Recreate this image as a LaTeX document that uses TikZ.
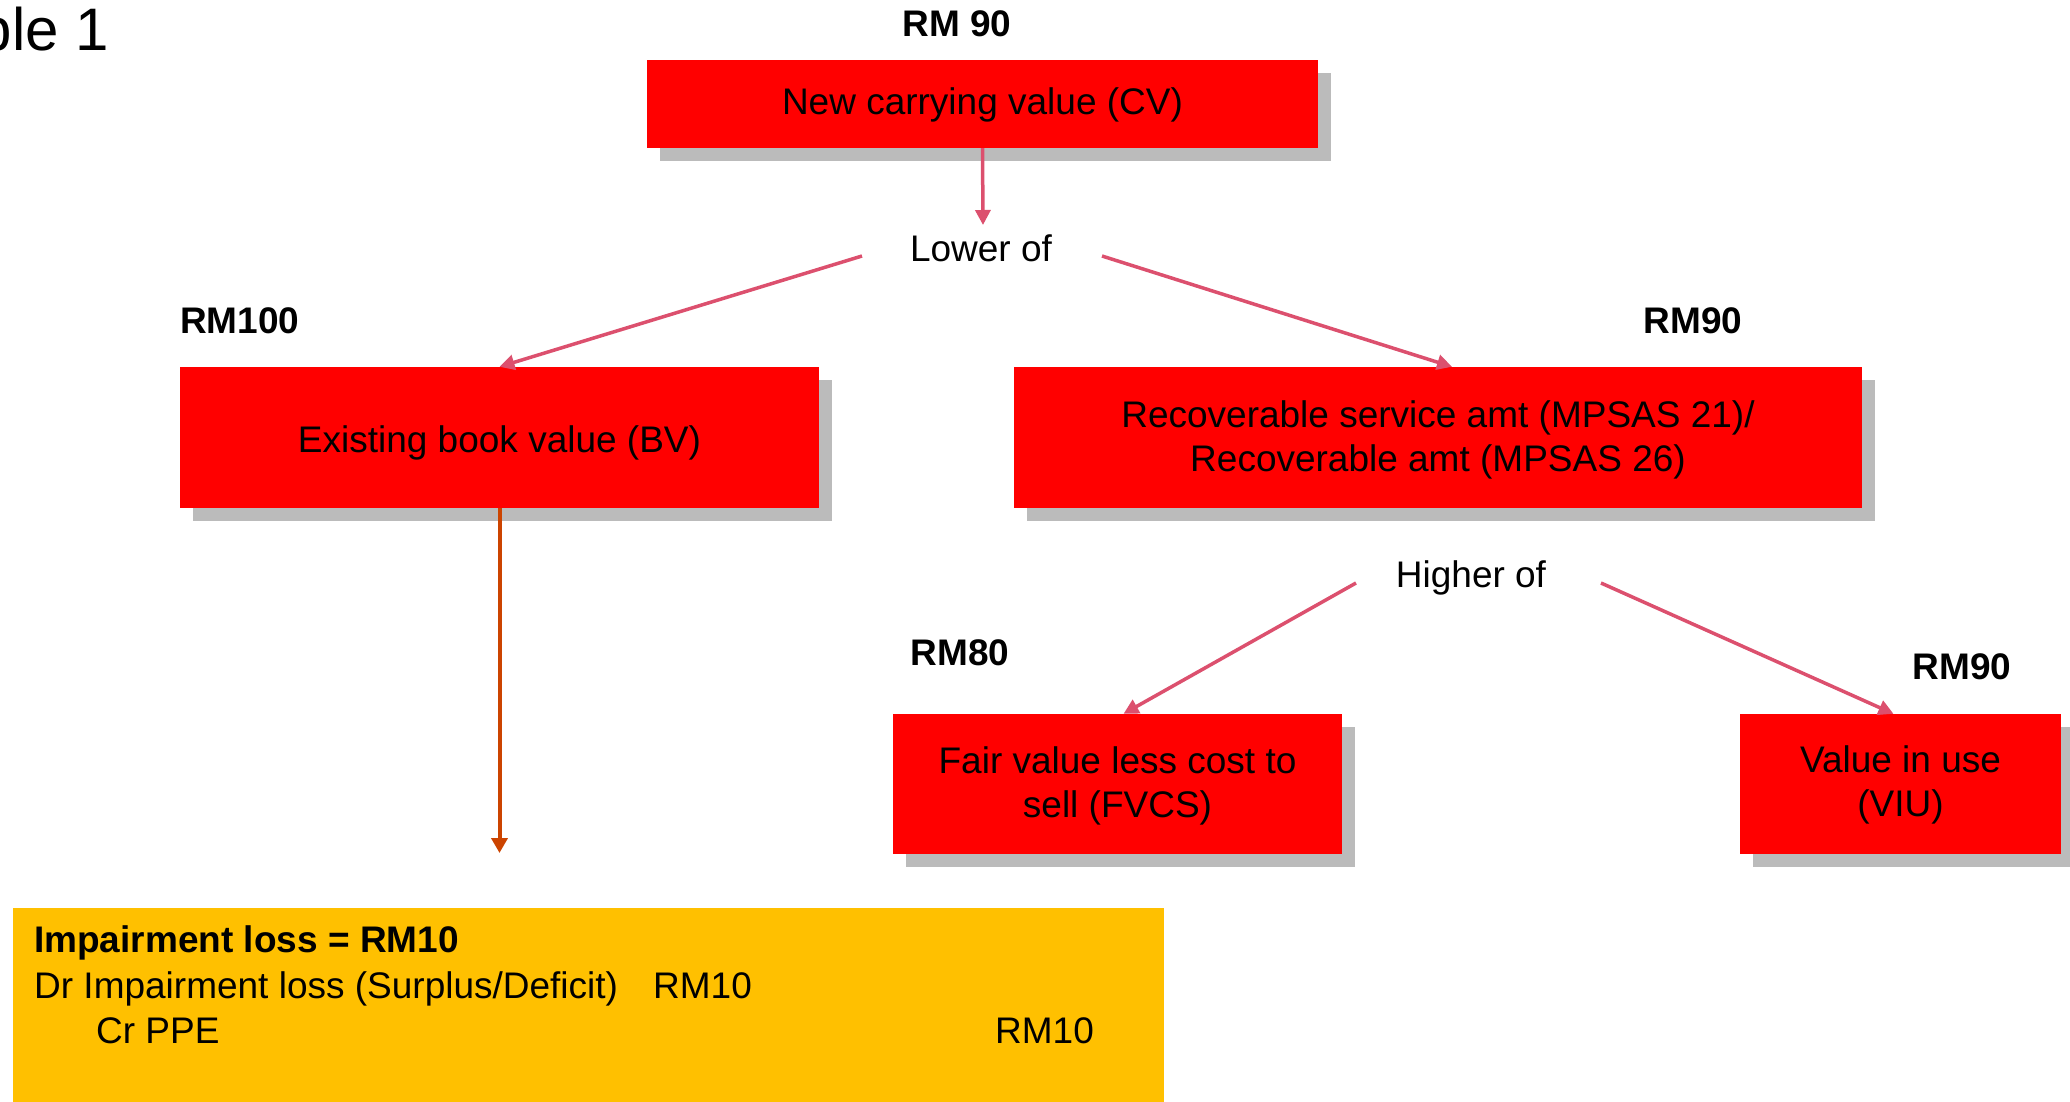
\documentclass[tikz,border=0pt]{standalone}
\usepackage{fontspec}
\setmainfont{Liberation Sans}
\usetikzlibrary{arrows.meta,shadows}
\definecolor{boxred}{HTML}{FF0000}
\definecolor{shadowgray}{HTML}{BBBBBB}
\definecolor{arrowpink}{HTML}{DC506E}
\definecolor{arrowbrown}{HTML}{CC4400}
\definecolor{lossyellow}{HTML}{FFC000}
\newcommand{\boxtext}[2]{\raisebox{-#1pt}[\height][\depth]{\begin{tabular}{@{}c@{}}#2\end{tabular}}}
\begin{document}
\begin{tikzpicture}[x=1pt,y=-1pt,
  every node/.style={font=\fontsize{37}{44}\selectfont, inner sep=0pt},
  redbox/.style={fill=boxred, align=center, minimum height=#1,
     drop shadow={shadow xshift=13pt, shadow yshift=-13pt, fill=shadowgray, opacity=1}},
  amount/.style={font=\fontsize{37}{44}\selectfont\bfseries},
  pinkarrow/.style={draw=arrowpink, line width=3.5pt, -{Triangle[width=15pt,length=15pt]}},
  brownarrow/.style={draw=arrowbrown, line width=4pt, -{Triangle[width=16pt,length=15pt]}}
]
\useasboundingbox (0,0) rectangle (2070,1101);

% title (cut off at left edge, as in the reference)
\node[anchor=base east, font=\fontsize{60}{72}\selectfont] (title) at (109,50) {Example 1};

% boxes
\node[redbox=88pt, minimum width=671pt] (cv) at (982.5,104) {\boxtext{2}{New carrying value (CV)}};
\node[redbox=141pt, minimum width=639pt] (bv) at (499.5,437.5) {\boxtext{6}{Existing book value (BV)}};
\node[redbox=141pt, minimum width=848pt] (rsa) at (1438,437.5) {\boxtext{3}{Recoverable service amt (MPSAS 21)/\\Recoverable amt (MPSAS 26)}};
\node[redbox=140pt, minimum width=449pt] (fvcs) at (1117.5,784) {\boxtext{3}{Fair value less cost to\\sell (FVCS)}};
\node[redbox=140pt, minimum width=321pt] (viu) at (1900.5,784) {\boxtext{2}{Value in use\\(VIU)}};

% amount labels
\node[amount] (rmcv) at (957,24) {RM 90};
\node[amount, anchor=west] (rmbv) at (180,321) {RM100};
\node[amount] (rmrsa) at (1693,321) {RM90};
\node[amount] (rmfv) at (960,653) {RM80};
\node[amount] (rmviu) at (1962,667) {RM90};

% connector texts
\node (lower) at (981,248) {Lower of};
\node (higher) at (1471,578) {Higher of};

\coordinate (lowtop) at (983,225);
\coordinate (lowL) at (862,256);
\coordinate (lowR) at (1102,256);
\coordinate (highL) at (1356,583);
\coordinate (highR) at (1601,583);
\coordinate (bvend) at (499.5,853);

\draw[pinkarrow] (cv.south) -- (lowtop);
\draw[pinkarrow] (lowL) -- (bv.north);
\draw[pinkarrow] (lowR) -- ([xshift=14pt]rsa.north);
\draw[pinkarrow] (highL) -- ([xshift=6pt]fvcs.north);
\draw[pinkarrow] (highR) -- ([xshift=-7pt]viu.north);
\draw[brownarrow] (bv.south) -- (bvend);

% journal entry box
\node[fill=lossyellow, anchor=north west, minimum width=1151pt, minimum height=215pt] (journal) at (13,908) {};
\node[anchor=base west, font=\fontsize{37}{44}\selectfont\bfseries] (head) at (34,952) {Impairment loss = RM10};
\node[anchor=base west] (dr) at (34,998) {Dr Impairment loss (Surplus/Deficit)};
\node[anchor=base west] (dramt) at (653,998) {RM10};
\node[anchor=base west] (cr) at (96,1043) {Cr PPE};
\node[anchor=base west] (cramt) at (995,1043) {RM10};
\end{tikzpicture}
\end{document}
